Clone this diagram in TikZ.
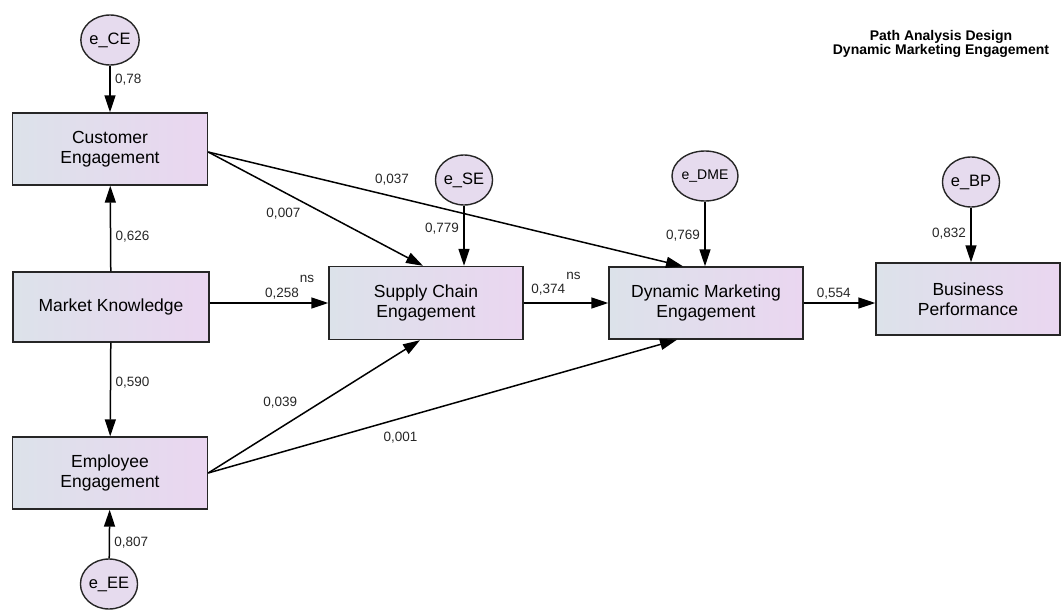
\documentclass[tikz,border=0pt]{standalone}
\usepackage{fontspec}
\setmainfont{Liberation Sans}
\usetikzlibrary{arrows.meta,shapes.geometric}

\definecolor{boxleft}{HTML}{DCE2EA}
\definecolor{boxright}{HTML}{EAD6F0}
\definecolor{errfill}{HTML}{E6DBEE}

\tikzset{
	var/.style={draw=black!85, line width=1.4pt, left color=boxleft, right color=boxright,
		minimum width=195pt, minimum height=72pt, inner sep=0pt, align=center,
		font=\fontsize{17.5}{19.5}\selectfont},
	err/.style={ellipse, draw=black!85, line width=1.4pt, fill=errfill,
		minimum width=56pt, minimum height=50pt, inner sep=0pt,
		font=\fontsize{16.5}{18}\selectfont},
	effect/.style={line width=1.5pt, -{Triangle[length=17pt,width=11pt]}},
	coef/.style={font=\fontsize{13.5}{15}\selectfont, text=black!85}
}

\begin{document}
\begin{tikzpicture}[x=1pt,y=-1pt]
	\useasboundingbox (0,0) rectangle (1061,610);
	% observed variables
	\node[var] (ce) at (110,149) {Customer\\Engagement};
	\node[var, minimum width=196pt, minimum height=70pt] (mk) at (111,307) {Market Knowledge};
	\node[var] (ee) at (110,473) {Employee\\Engagement};
	\node[var, minimum width=194pt, minimum height=73pt] (sce) at (426,303) {Supply Chain\\Engagement};
	\node[var, minimum width=194pt] (dme) at (706,303) {Dynamic Marketing\\Engagement};
	\node[var, minimum width=184pt] (bp) at (968,299) {Business\\Performance};
	% error terms
	\node[err] (ece) at (110,40) {e\_CE};
	\node[err] (ese) at (464,180) {e\_SE};
	\node[err, font=\fontsize{14}{16}\selectfont] (edme) at (705,176) {e\_DME};
	\node[err] (ebp) at (971,182) {e\_BP};
	\node[err] (eee) at (109,584) {e\_EE};
	% title
	\node[align=center, font=\bfseries\fontsize{14}{14.5}\selectfont] (title) at (941,44)
		{Path Analysis Design\\Dynamic Marketing Engagement};
	% paths
	\draw[effect] (ece) -- node[coef, pos=0.31, right=1pt]{0,78} (ce);
	\draw[effect] (mk) -- node[coef, pos=0.4, right=1pt]{0,626} (ce);
	\draw[effect] (mk) -- node[coef, pos=0.43, right=1pt]{0,590} (ee);
	\draw[effect] (eee) -- node[coef, pos=0.33, right=1pt]{0,807} (ee);
	\draw[effect] (ese) -- node[coef, pos=0.39, left=1pt]{0,779} (ese |- sce.north);
	\draw[effect] (edme) -- node[coef, pos=0.53, left=1pt]{0,769} (edme |- dme.north);
	\draw[effect] (ebp) -- node[coef, pos=0.48, left=1pt]{0,832} (ebp |- bp.north);
	\draw[effect] (mk.east |- sce.west) -- node[coef, pos=0.61, above]{0,258}
		node[coef, pos=0.82, above=16pt]{ns} (sce.west);
	\draw[effect] (sce.east) -- node[coef, pos=0.29, above=4pt]{0,374}
		node[coef, pos=0.59, above=19pt]{ns} (dme.west);
	\draw[effect] (dme.east) -- node[coef, pos=0.42, above]{0,554} (bp.west |- dme.east);
	\draw[effect] ([yshift=-3pt]ce.east) -- node[coef, pos=0.35, below=12pt]{0,007} ([xshift=-3pt]sce.north);
	\draw[effect] ([yshift=-3pt]ce.east) -- node[coef, pos=0.387, above=7pt]{0,037} ([xshift=-23pt]dme.north);
	\draw[effect] (ee.east) -- node[coef, pos=0.34, above=16pt]{0,039} ([xshift=-6pt]sce.south);
	\draw[effect] (ee.east) -- node[coef, pos=0.41, below=10pt]{0,001} ([xshift=-29pt]dme.south);
\end{tikzpicture}
\end{document}
